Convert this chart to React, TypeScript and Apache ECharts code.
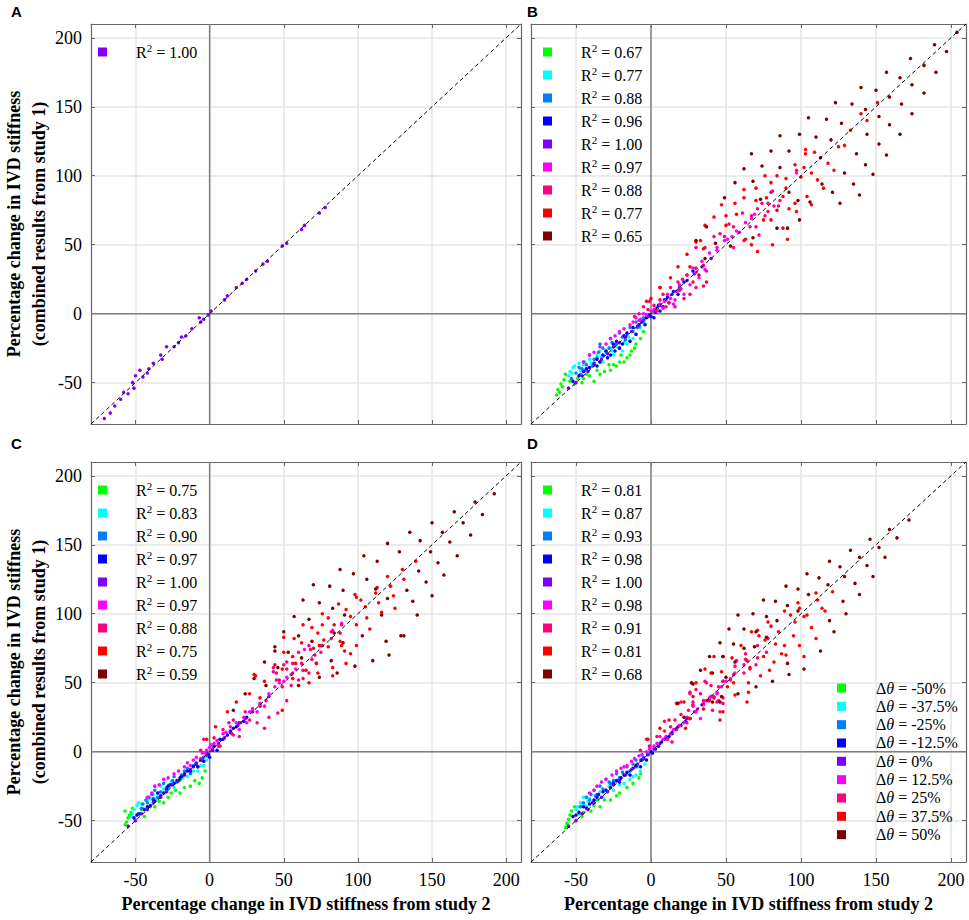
import React, { useEffect, useRef } from "react";
import * as echarts from "echarts";

// ---------- axis values ----------
const AXIS_MIN = -80;
const AXIS_MAX = 210;
const TICKS = [-50, 0, 50, 100, 150, 200];
const PANEL_LETTERS = ["A", "B", "C", "D"];
const X_TITLE = "Percentage change in IVD stiffness from study 2";
const Y_TITLE = "Percentage change in IVD stiffness\n(combined results from study 1)";

// ---------- legend texts ----------
const THETA_LABELS = ["-50%", "-37.5%", "-25%", "-12.5%", "0%", "12.5%", "25%", "37.5%", "50%"];
const R2_A = ["1.00"];
const R2_B = ["0.67", "0.77", "0.88", "0.96", "1.00", "0.97", "0.88", "0.77", "0.65"];
const R2_C = ["0.75", "0.83", "0.90", "0.97", "1.00", "0.97", "0.88", "0.75", "0.59"];
const R2_D = ["0.81", "0.87", "0.93", "0.98", "1.00", "0.98", "0.91", "0.81", "0.68"];

const PALETTE = ["#00ff00", "#00ffff", "#0080ff", "#0000ff", "#8000ff", "#ff00ff", "#ff0080", "#ff0000", "#800000"];

// ---------- panel A (Δθ = 0%) ----------
const A_PURPLE = [[-71,-76],[-67,-72],[-64,-67],[-60,-62],[-58,-57],[-55,-58],[-52,-50],[-51,-54],[-50,-45],[-47,-41],[-45,-46],[-42,-43],[-41,-40],[-38,-36],[-33,-30],[-32,-33],[-29,-24],[-24,-24],[-21,-21],[-19,-17],[-16,-16],[-12,-11],[-7,-3],[-6,-6],[-4,-4],[-1,-1],[1,2],[10,10],[12,13],[18,19],[22,22],[25,25],[31,31],[36,36],[39,38],[49,49],[52,51],[62,61],[64,64],[74,73],[78,77]];

// ---------- Δθ = 0% in panels B–D ----------
const BCD_PURPLE = [[-55,-54],[-50,-50],[-46,-45],[-42,-42],[-38,-37],[-33,-33],[-29,-29],[-25,-24],[-21,-21],[-17,-17],[-13,-13],[-9,-9],[-5,-5],[-2,-2],[2,2],[6,6],[10,10],[14,14],[19,19],[24,24],[29,29],[34,34],[40,40]];

// ---------- panel B ----------
const B_GREEN = [[-63,-59],[-62,-55],[-60,-51],[-58,-48],[-57,-44],[-61,-57],[-59,-53],[-54,-49],[-51,-51],[-46,-50],[-45,-47],[-41,-45],[-38,-49],[-36,-41],[-34,-44],[-28,-37],[-27,-41],[-25,-37],[-23,-38],[-21,-35],[-18,-35],[-16,-32],[-14,-30],[-13,-27],[-10,-22],[-7,-18],[-31,-42],[-43,-44],[-49,-47],[-20,-30],[-11,-25],[-5,-13]];
const B_CYAN = [[-55,-45],[-54,-42],[-52,-39],[-51,-38],[-53,-43],[-47,-41],[-45,-37],[-41,-33],[-38,-37],[-36,-30],[-34,-27],[-32,-35],[-27,-25],[-25,-30],[-21,-25],[-16,-22],[-12,-18],[-10,-15],[-7,-10],[-29,-32],[-43,-40],[-19,-27],[-4,-7],[-14,-20],[-48,-36],[-44,-35],[-40,-36],[-37,-33],[-33,-31],[-30,-28],[-26,-27],[-23,-24],[-18,-21],[-15,-17]];
const B_AZURE = [[-53,-47],[-48,-39],[-47,-44],[-45,-35],[-43,-37],[-41,-30],[-36,-32],[-34,-22],[-30,-27],[-27,-18],[-23,-22],[-21,-14],[-16,-15],[-14,-10],[-12,-13],[-10,-6],[-5,-3],[-39,-38],[-25,-24],[-8,-9],[-2,-2],[-50,-43],[-46,-40],[-44,-41],[-38,-33],[-35,-28],[-32,-25],[-28,-25],[-26,-21],[-19,-17],[-17,-19],[-9,-10],[-7,-5]];
const B_BLUE = [[-52,-49],[-45,-42],[-41,-39],[-38,-36],[-34,-35],[-32,-30],[-27,-30],[-25,-22],[-21,-25],[-18,-16],[-14,-20],[-12,-10],[-10,-15],[-6,-6],[-4,-8],[-1,-1],[2,-3],[4,4],[6,2],[9,10],[15,16],[22,23],[28,31],[12,8],[18,14],[-48,-45],[-43,-40],[-36,-33],[-30,-27],[-29,-32],[-23,-20],[-19,-22],[-16,-14],[-8,-8],[-3,-3],[0,-2],[3,1],[5,6],[8,5],[11,12],[-24,-27],[-36,-38]];
const B_MAGENTA = [[-45,-35],[-41,-30],[-34,-24],[-27,-18],[-21,-13],[-14,-8],[-10,-3],[-7,-4],[6,7],[8,4],[9,9],[13,11],[15,7],[16,10],[17,16],[19,21],[22,14],[24,28],[26,21],[28,33],[32,26],[34,38],[36,32],[39,44],[44,48],[44,46],[49,53],[51,54],[54,56],[57,60],[59,59],[63,66],[67,69],[69,72],[97,102],[2,3],[-3,-1],[-38,-28],[-30,-22],[-24,-16],[-18,-11],[-12,-6],[-8,-5],[-5,0],[0,2],[4,3],[11,14],[20,18],[30,30]];
const B_PINK = [[-5,5],[-1,9],[4,2],[10,5],[16,5],[22,11],[26,14],[30,19],[35,20],[28,23],[24,28],[30,33],[35,35],[37,31],[18,23],[13,19],[8,14],[6,19],[-11,-2],[30,48],[36,48],[42,56],[46,58],[49,56],[52,65],[55,63],[55,48],[62,53],[61,73],[66,63],[67,71],[70,63],[72,57],[71,76],[74,80],[76,71],[78,80],[78,74],[80,88],[81,89],[82,78],[85,78],[86,82],[97,104],[-8,0],[-2,3],[2,6],[6,10],[12,8],[19,17],[21,25]];
const B_RED = [[0,11],[-3,9],[6,19],[13,26],[18,34],[24,43],[26,34],[30,52],[32,28],[35,47],[37,23],[33,53],[36,64],[42,70],[47,79],[50,71],[50,64],[56,80],[57,72],[62,90],[62,84],[63,54],[67,50],[70,91],[70,82],[71,45],[75,68],[76,100],[77,84],[80,95],[80,68],[81,50],[84,100],[84,75],[88,85],[88,62],[90,98],[90,91],[91,54],[92,76],[96,108],[96,80],[97,74],[100,99],[102,106],[103,119],[103,116],[104,85],[107,102],[107,79],[109,117],[111,97],[115,91],[118,109],[122,104],[125,121],[129,122],[133,133],[140,145],[144,140],[151,153]];
const B_DARKRED = [[30,53],[37,63],[43,51],[53,49],[36,40],[49,84],[56,95],[62,105],[67,116],[68,96],[68,55],[73,83],[74,107],[80,118],[84,62],[86,106],[86,129],[91,62],[92,118],[92,88],[98,82],[99,68],[99,130],[105,142],[106,81],[110,128],[113,113],[114,94],[117,141],[120,126],[121,88],[123,153],[126,80],[127,138],[129,102],[134,152],[135,94],[137,116],[139,86],[140,164],[143,148],[143,108],[144,130],[148,101],[150,162],[152,123],[152,143],[157,175],[157,115],[159,137],[159,157],[166,171],[166,130],[167,152],[173,185],[174,145],[174,166],[182,180],[182,160],[189,195],[190,175],[197,190],[204,204]];

// ---------- panel C ----------
const C_GREEN = [[-57,-53],[-56,-51],[-55,-48],[-54,-46],[-53,-44],[-52,-41],[-57,-43],[-46,-42],[-44,-47],[-40,-40],[-37,-40],[-34,-36],[-31,-37],[-28,-33],[-26,-30],[-20,-30],[-17,-26],[-13,-25],[-10,-21],[-7,-23],[-5,-19],[-3,-14],[-23,-28],[-48,-45]];
const C_CYAN = [[-53,-47],[-52,-45],[-51,-42],[-49,-39],[-48,-37],[-42,-35],[-38,-31],[-35,-30],[-33,-25],[-28,-26],[-24,-26],[-22,-22],[-18,-19],[-15,-18],[-11,-14],[-8,-14],[-4,-10],[-45,-41],[-30,-29],[-2,-6],[-46,-38],[-40,-34],[-36,-34],[-31,-27],[-26,-22],[-20,-21],[-13,-15],[-6,-10]];
const C_AZURE = [[-48,-45],[-45,-38],[-43,-35],[-41,-33],[-39,-31],[-37,-28],[-33,-29],[-31,-23],[-27,-24],[-24,-18],[-20,-20],[-17,-14],[-13,-16],[-11,-10],[-8,-11],[-5,-6],[-2,-3],[-35,-33],[-22,-22],[-46,-41],[-42,-37],[-38,-34],[-29,-26],[-25,-21],[-19,-17],[-15,-12],[-9,-8],[-4,-4]];
const C_BLUE = [[-51,-48],[-47,-45],[-44,-42],[-40,-39],[-37,-36],[-35,-30],[-31,-30],[-28,-25],[-24,-23],[-20,-19],[-17,-16],[-13,-14],[-11,-11],[-8,-11],[-6,-6],[-4,-7],[-2,-1],[0,-4],[3,4],[5,1],[7,9],[12,12],[16,17],[20,21],[25,25],[29,31],[-49,-46],[-42,-40],[-38,-35],[-33,-32],[-29,-27],[-26,-24],[-22,-21],[-19,-18],[-15,-14],[-9,-9],[-1,-2],[2,1],[9,9],[14,15],[18,18],[23,22]];
const C_MAGENTA = [[-42,-33],[-37,-25],[-31,-20],[-24,-16],[-17,-11],[-13,-10],[-11,-6],[-6,-5],[-5,-1],[-2,1],[0,3],[3,6],[6,4],[9,13],[14,18],[16,12],[18,21],[20,16],[23,25],[25,21],[27,29],[32,29],[34,35],[37,33],[40,42],[44,47],[47,50],[50,51],[52,54],[55,56],[58,60],[64,74],[83,88],[89,93],[-39,-30],[-34,-24],[-28,-19],[-21,-14],[-15,-8],[-9,-4],[-3,-1],[1,5],[5,8],[11,14],[21,21],[29,31]];
const C_PINK = [[-6,1],[-4,9],[3,10],[7,4],[9,16],[13,21],[15,13],[16,23],[20,11],[24,29],[27,23],[32,21],[34,33],[37,17],[38,37],[40,25],[43,58],[43,61],[45,57],[46,28],[45,52],[47,52],[49,47],[50,63],[52,37],[52,60],[52,65],[55,48],[56,57],[56,64],[60,52],[60,72],[62,64],[63,59],[63,53],[67,57],[67,77],[68,74],[69,67],[71,70],[72,64],[75,77],[75,72],[76,77],[82,82],[82,87],[89,92]];
const C_RED = [[-2,9],[4,18],[12,29],[18,36],[27,42],[30,56],[34,39],[49,30],[31,55],[37,51],[44,63],[49,60],[50,83],[50,72],[56,53],[56,69],[57,82],[58,64],[62,79],[63,92],[65,59],[67,50],[69,90],[70,75],[72,64],[73,57],[73,86],[74,77],[76,92],[76,100],[77,81],[80,76],[80,97],[83,55],[83,61],[84,92],[87,107],[88,86],[88,80],[89,77],[91,73],[92,103],[92,64],[95,98],[95,71],[98,114],[99,112],[99,77],[99,92],[102,110],[105,105],[106,97],[108,89],[112,115],[113,119],[114,108],[116,101],[120,127],[122,120],[124,113],[125,104],[130,132],[131,125],[139,138]];
const C_DARKRED = [[16,30],[24,42],[30,53],[37,65],[38,48],[44,76],[44,73],[46,61],[50,87],[53,72],[57,98],[60,84],[60,48],[62,68],[63,110],[67,96],[69,80],[70,121],[74,54],[74,108],[81,120],[82,66],[83,104],[84,86],[86,57],[88,132],[90,117],[90,79],[91,99],[97,129],[98,62],[103,84],[104,142],[106,125],[110,66],[112,118],[113,138],[116,99],[119,80],[120,151],[120,111],[121,70],[128,145],[129,84],[131,84],[133,117],[135,159],[137,109],[140,99],[141,131],[142,153],[146,123],[149,145],[150,113],[150,166],[154,137],[157,159],[158,128],[162,152],[165,174],[167,142],[171,166],[176,157],[179,181],[184,172],[192,187]];

// ---------- panel D ----------
const D_GREEN = [[-57,-55],[-56,-52],[-55,-49],[-54,-46],[-53,-43],[-51,-40],[-48,-45],[-46,-47],[-43,-40],[-40,-43],[-36,-35],[-34,-40],[-31,-35],[-27,-35],[-23,-32],[-21,-30],[-16,-26],[-12,-23],[-8,-19],[-7,-16],[-45,-44],[-38,-39]];
const D_CYAN = [[-50,-42],[-49,-40],[-47,-37],[-45,-33],[-41,-34],[-38,-37],[-34,-29],[-32,-33],[-28,-25],[-25,-28],[-18,-23],[-14,-20],[-12,-18],[-10,-17],[-7,-14],[-44,-39],[-21,-24],[-4,-9],[-46,-38],[-42,-36],[-36,-33],[-30,-28],[-26,-24],[-22,-21],[-16,-16],[-9,-11]];
const D_AZURE = [[-47,-40],[-43,-33],[-40,-31],[-38,-28],[-34,-25],[-30,-20],[-27,-23],[-23,-16],[-21,-19],[-16,-11],[-14,-14],[-10,-6],[-10,-11],[-5,-4],[-36,-31],[-2,-2],[-45,-37],[-41,-35],[-37,-32],[-32,-27],[-28,-22],[-25,-21],[-19,-15],[-12,-9],[-7,-6]];
const D_BLUE = [[-52,-47],[-48,-44],[-45,-40],[-41,-38],[-38,-35],[-35,-31],[-32,-29],[-27,-26],[-25,-23],[-21,-22],[-18,-17],[-14,-17],[-12,-12],[-7,-11],[-6,-6],[-3,-6],[-2,-2],[3,2],[7,7],[12,11],[16,16],[20,19],[26,24],[1,-1],[-50,-46],[-43,-41],[-39,-37],[-36,-33],[-30,-28],[-23,-21],[-20,-19],[-16,-15],[-10,-10],[-5,-5],[0,0],[5,4],[9,9],[14,13],[18,18],[23,22]];
const D_MAGENTA = [[-41,-30],[-36,-25],[-30,-20],[-23,-14],[-20,-12],[-16,-10],[-11,-5],[-6,-2],[-1,2],[4,6],[6,11],[8,9],[13,13],[15,16],[17,17],[22,21],[24,25],[26,24],[28,33],[30,29],[33,24],[35,34],[35,35],[38,37],[39,39],[42,40],[44,42],[44,43],[47,47],[48,51],[50,51],[53,53],[56,57],[62,63],[-38,-28],[-33,-22],[-26,-17],[-18,-11],[-13,-7],[-8,-3],[-3,0],[2,4],[10,11],[19,19],[31,31],[40,40]];
const D_PINK = [[-7,1],[-3,9],[-1,4],[4,11],[9,15],[9,22],[11,9],[13,18],[14,7],[16,23],[17,16],[20,27],[20,36],[24,21],[25,30],[26,43],[26,42],[28,34],[28,36],[30,45],[33,42],[35,37],[36,51],[37,50],[37,37],[40,48],[41,30],[44,36],[45,37],[45,47],[46,29],[48,39],[48,35],[48,51],[53,52],[55,56],[56,62],[57,66],[62,57],[63,67],[63,71],[66,60],[70,63],[71,68],[71,77],[77,72],[78,82]];
const D_RED = [[-2,9],[6,17],[12,23],[17,35],[22,36],[23,17],[26,24],[28,40],[30,50],[35,31],[36,60],[39,37],[40,57],[42,39],[42,69],[46,23],[47,58],[48,29],[48,69],[51,47],[54,68],[55,50],[56,41],[60,77],[64,66],[64,36],[65,43],[65,50],[66,61],[67,87],[71,88],[72,84],[73,55],[75,69],[76,81],[78,94],[79,59],[80,91],[82,65],[83,78],[85,87],[87,71],[89,77],[89,102],[90,70],[93,99],[95,84],[96,94],[98,108],[99,104],[99,77],[102,98],[102,69],[104,99],[107,90],[110,115],[110,82],[111,110],[114,104],[116,102],[121,116]];
const D_DARKRED = [[18,35],[22,25],[27,50],[28,49],[33,59],[39,69],[41,57],[41,36],[46,79],[46,36],[47,40],[48,69],[50,54],[52,89],[55,78],[56,65],[58,99],[58,42],[62,89],[62,75],[68,100],[69,76],[70,87],[70,47],[75,110],[77,98],[77,83],[81,51],[83,109],[84,95],[90,120],[91,106],[91,64],[92,56],[98,118],[98,102],[102,60],[104,129],[105,114],[112,126],[113,73],[118,121],[119,138],[119,95],[122,87],[126,134],[128,109],[129,127],[130,100],[133,146],[136,122],[139,141],[139,114],[144,135],[146,154],[148,127],[152,148],[156,141],[159,161],[164,155],[172,168]];

const PANEL_SERIES = [
  [null, null, null, null, A_PURPLE, null, null, null, null],
  [B_GREEN, B_CYAN, B_AZURE, B_BLUE, BCD_PURPLE, B_MAGENTA, B_PINK, B_RED, B_DARKRED],
  [C_GREEN, C_CYAN, C_AZURE, C_BLUE, BCD_PURPLE, C_MAGENTA, C_PINK, C_RED, C_DARKRED],
  [D_GREEN, D_CYAN, D_AZURE, D_BLUE, BCD_PURPLE, D_MAGENTA, D_PINK, D_RED, D_DARKRED],
];
const PANEL_R2 = [R2_A, R2_B, R2_C, R2_D];

// ---------- layout ----------
const SERIF = "'Liberation Serif', 'Times New Roman', serif";
const SANS = "'Liberation Sans', Arial, sans-serif";
const GRIDS = [
  { left: 86, top: 24 },
  { left: 531, top: 24 },
  { left: 86, top: 462 },
  { left: 531, top: 462 },
];
const GRID_W = 435;
const GRID_H = 400;
const BOX = "#666666";

function buildOption() {
  const grid: any[] = [];
  const xAxis: any[] = [];
  const yAxis: any[] = [];
  const series: any[] = [];
  const legend: any[] = [];
  const title: any[] = [];
  const labelMap: Record<string, string> = {};
  const thetaMap: Record<string, string> = {};

  GRIDS.forEach((g, p) => {
    grid.push({ left: g.left, top: g.top, width: GRID_W, height: GRID_H, show: false });
    const showX = p >= 2;
    const showY = p % 2 === 0;
    const tick = { show: true, inside: true, length: 4, customValues: TICKS, lineStyle: { color: BOX, width: 1 } };
    const line = { show: true, onZero: false, lineStyle: { color: BOX, width: 1.2 } };
    xAxis.push({
      type: "value", gridIndex: p, position: "bottom", min: AXIS_MIN, max: AXIS_MAX,
      axisLine: line, axisTick: tick,
      axisLabel: { show: showX, customValues: TICKS, margin: 9, fontFamily: SERIF, fontSize: 18, color: "#000" },
      splitLine: { show: true, lineStyle: { color: "#e4e4e4", width: 1.5 } },
      name: showX ? X_TITLE : "", nameLocation: "middle", nameGap: 33,
      nameTextStyle: { fontFamily: SERIF, fontWeight: "bold", fontSize: 18, color: "#000" },
    });
    xAxis.push({
      type: "value", gridIndex: p, position: "top", min: AXIS_MIN, max: AXIS_MAX,
      axisLine: line, axisTick: tick, axisLabel: { show: false, customValues: TICKS }, splitLine: { show: false },
    });
    yAxis.push({
      type: "value", gridIndex: p, position: "left", min: AXIS_MIN, max: AXIS_MAX,
      axisLine: line, axisTick: tick,
      axisLabel: { show: showY, customValues: TICKS, margin: 9, fontFamily: SERIF, fontSize: 18, color: "#000" },
      splitLine: { show: true, lineStyle: { color: "#e4e4e4", width: 1.5 } },
      name: showY ? Y_TITLE : "", nameLocation: "middle", nameGap: 40,
      nameTextStyle: { fontFamily: SERIF, fontWeight: "bold", fontSize: 18, lineHeight: 25, color: "#000" },
    });
    yAxis.push({
      type: "value", gridIndex: p, position: "right", min: AXIS_MIN, max: AXIS_MAX,
      axisLine: line, axisTick: tick, axisLabel: { show: false, customValues: TICKS }, splitLine: { show: false },
    });

    const xi = 2 * p;
    const yi = 2 * p;
    // zero reference lines
    series.push({
      type: "line", xAxisIndex: xi, yAxisIndex: yi, data: [[0, AXIS_MIN], [0, AXIS_MAX]],
      symbol: "none", silent: true, z: 1, lineStyle: { color: "#808080", width: 1.5 },
    });
    series.push({
      type: "line", xAxisIndex: xi, yAxisIndex: yi, data: [[AXIS_MIN, 0], [AXIS_MAX, 0]],
      symbol: "none", silent: true, z: 1, lineStyle: { color: "#808080", width: 1.5 },
    });

    const names: string[] = [];
    let r2i = 0;
    PANEL_SERIES[p].forEach((pts, k) => {
      if (!pts) return;
      const name = PANEL_LETTERS[p] + " " + THETA_LABELS[k];
      names.push(name);
      labelMap[name] = "R{s|2} = " + PANEL_R2[p][r2i++];
      thetaMap[name] = "\u0394{i|\u03b8} = " + THETA_LABELS[k];
      series.push({
        type: "scatter", name, xAxisIndex: xi, yAxisIndex: yi, data: pts,
        symbol: "circle", symbolSize: 3.5, silent: true, z: 2,
        itemStyle: { color: PALETTE[k], opacity: 1 },
      });
    });
    // identity line
    series.push({
      type: "line", xAxisIndex: xi, yAxisIndex: yi, data: [[AXIS_MIN, AXIS_MIN], [AXIS_MAX, AXIS_MAX]],
      symbol: "none", silent: true, z: 5, lineStyle: { color: "#000", width: 1, type: [4, 3] },
    });

    legend.push({
      orient: "vertical", left: g.left + 12, top: g.top + 18, padding: 0,
      itemWidth: 9, itemHeight: 9, itemGap: 3, icon: "rect", selectedMode: false,
      data: names, formatter: (n: string) => labelMap[n],
      textStyle: {
        fontFamily: SERIF, fontSize: 16, color: "#000", lineHeight: 20, padding: [0, 0, 0, 24],
        rich: { s: { fontFamily: SERIF, fontSize: 11, lineHeight: 10, verticalAlign: "top" } },
      },
    });
    if (p === 3) {
      legend.push({
        orient: "vertical", left: g.left + 306, top: g.top + 217, padding: 0,
        itemWidth: 9, itemHeight: 9, itemGap: 0.33, icon: "rect", selectedMode: false,
        data: names, formatter: (n: string) => thetaMap[n],
        textStyle: {
          fontFamily: SERIF, fontSize: 16, color: "#000", lineHeight: 18, padding: [0, 0, 0, 25],
          rich: { i: { fontFamily: SERIF, fontSize: 16, fontStyle: "italic", lineHeight: 18 } },
        },
      });
    }

    title.push({
      text: PANEL_LETTERS[p], left: p % 2 === 0 ? 11 : 527, top: p < 2 ? 4 : 436, padding: 0,
      textStyle: { fontFamily: SANS, fontWeight: "bold", fontSize: 15, color: "#000" },
    });
  });

  return { animation: false, backgroundColor: "#fff", title, grid, xAxis, yAxis, legend, series };
}

export default function App() {
  const ref = useRef<HTMLDivElement>(null);
  useEffect(() => {
    if (!ref.current) return;
    const chart = echarts.init(ref.current, undefined, { renderer: "svg" });
    chart.setOption(buildOption());
    return () => chart.dispose();
  }, []);
  return <div ref={ref} style={{ position: "absolute", left: 0, top: 0, width: 969, height: 920 }} />;
}
